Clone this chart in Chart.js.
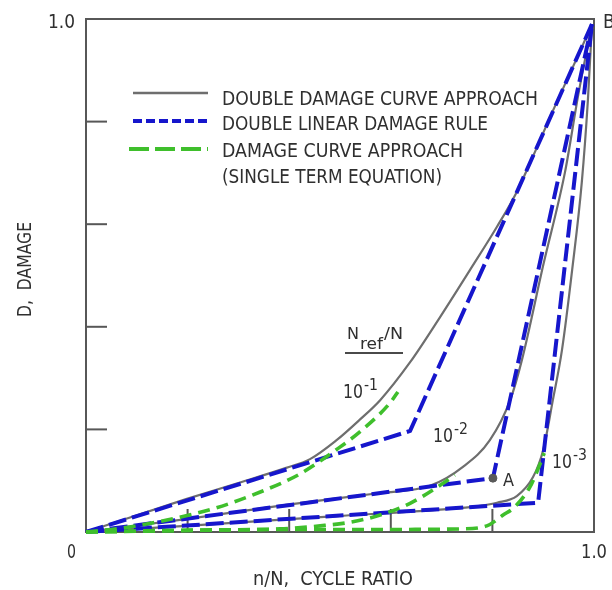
<!DOCTYPE html>
<html>
<head>
<meta charset="utf-8">
<script src="https://cdn.jsdelivr.net/npm/chart.js@4.4.1/dist/chart.umd.min.js"></script>
<style>
  html, body { margin: 0; padding: 0; background: #fff; }
  #wrap { width: 612px; height: 590px; }
</style>
</head>
<body>
<div id="wrap"><canvas id="chart" width="612" height="590"></canvas></div>
<script>
/* ─── Data ──────────────────────────────────────────────────────────────── */
const xTicks = [0.2, 0.4, 0.6, 0.8];
const yTicks = [0.2, 0.4, 0.6, 0.8];
const xTickLabels = ['0', '1.0'];
const yTickLabels = ['1.0'];
const ratioExponents = ['-1', '-2', '-3'];

// Double damage curve approach (solid grey)
const ddca1X = [0, 0.197, 0.295, 0.394, 0.441, 0.492, 0.539, 0.579, 0.638, 0.697, 0.756, 0.809, 0.848, 0.874, 0.919, 0.972, 0.996];
const ddca1Y = [0, 0.064, 0.094, 0.125, 0.142, 0.178, 0.219, 0.257, 0.331, 0.419, 0.511, 0.595, 0.663, 0.719, 0.821, 0.936, 0.990];
const ddca2X = [0, 0.197, 0.394, 0.579, 0.677, 0.742, 0.795, 0.835, 0.858, 0.900, 0.943, 0.969, 0.996];
const ddca2Y = [0, 0.025, 0.053, 0.076, 0.090, 0.127, 0.179, 0.257, 0.335, 0.520, 0.702, 0.852, 0.990];
const ddca3X = [0, 0.197, 0.492, 0.717, 0.776, 0.809, 0.848, 0.880, 0.900, 0.919, 0.937, 0.957, 0.976, 0.988, 0.996];
const ddca3Y = [0, 0.012, 0.031, 0.045, 0.051, 0.057, 0.070, 0.107, 0.160, 0.257, 0.355, 0.511, 0.682, 0.842, 0.990];

// Double linear damage rule (blue dashed), knee points in the middle
const dldr1X = [0, 0.638, 0.996];
const dldr1Y = [0, 0.197, 0.990];
const dldr2X = [0, 0.801, 0.996];
const dldr2Y = [0, 0.105, 0.990];
const dldr3X = [0, 0.890, 0.996];
const dldr3Y = [0, 0.057, 0.990];

// Damage curve approach, single term (green dashed) - drawn until it meets the grey curve
const dca1X = [0, 0.073, 0.157, 0.256, 0.343, 0.421, 0.492, 0.539, 0.598, 0.614];
const dca1Y = [0, 0.008, 0.023, 0.047, 0.078, 0.113, 0.160, 0.195, 0.251, 0.273];
const dca2X = [0, 0.224, 0.382, 0.461, 0.520, 0.579, 0.638, 0.697, 0.726];
const dca2Y = [0, 0.004, 0.006, 0.012, 0.019, 0.033, 0.056, 0.091, 0.111];
const dca3X = [0, 0.421, 0.618, 0.736, 0.789, 0.821, 0.844, 0.874, 0.894, 0.902];
const dca3Y = [0, 0.005, 0.005, 0.006, 0.012, 0.033, 0.049, 0.088, 0.133, 0.154];

const pointA = [0.801, 0.105];

/* ─── Styling ───────────────────────────────────────────────────────────── */
const GREY  = '#6e6e6e';
const BLUE  = '#1616cc';
const GREEN = '#3fbf2c';
const INK   = '#2f2f2f';
const FONT  = '"DejaVu Sans Condensed", "DejaVu Sans", sans-serif';

const pts = (xs, ys) => xs.map((x, i) => ({ x, y: ys[i] }));

const greyLine = (xs, ys) => ({
  data: pts(xs, ys), borderColor: GREY, borderWidth: 2.2,
  cubicInterpolationMode: 'monotone', pointRadius: 0, showLine: true, clip: false,
});
const blueLine = (xs, ys) => ({
  data: pts(xs, ys), borderColor: BLUE, borderWidth: 4, borderDash: [18, 6],
  pointRadius: 0, showLine: true, clip: false,
});
const greenLine = (xs, ys) => ({
  data: pts(xs, ys), borderColor: GREEN, borderWidth: 3.6, borderDash: [12, 7],
  cubicInterpolationMode: 'monotone', pointRadius: 0, showLine: true, clip: false,
});

// text squeezed/stretched to a given width; x = left edge, y = baseline
function fitText(ctx, text, x, y, width, size) {
  ctx.save();
  ctx.font = `${size}px ${FONT}`;
  const w = ctx.measureText(text).width;
  ctx.translate(x, y);
  ctx.scale(width / w, 1);
  ctx.textBaseline = 'alphabetic';
  ctx.textAlign = 'left';
  ctx.fillStyle = INK;
  ctx.fillText(text, 0, 0);
  ctx.restore();
}

function line(ctx, x1, y1, x2, y2, color, width, dash) {
  ctx.save();
  ctx.strokeStyle = color;
  ctx.lineWidth = width;
  ctx.setLineDash(dash || []);
  ctx.beginPath();
  ctx.moveTo(x1, y1);
  ctx.lineTo(x2, y2);
  ctx.stroke();
  ctx.restore();
}

/* ─── Frame, ticks, labels, legend ──────────────────────────────────────── */
const decorations = {
  id: 'decorations',
  beforeDatasetsDraw(chart) {
    const { ctx, chartArea: a, scales: { x, y } } = chart;
    ctx.save();
    ctx.strokeStyle = '#575757';
    ctx.lineWidth = 2;
    ctx.strokeRect(a.left, a.top, a.right - a.left, a.bottom - a.top);
    ctx.restore();
    yTicks.forEach(v => {
      const py = y.getPixelForValue(v);
      line(ctx, a.left, py, a.left + 21, py, '#575757', 2);
    });
    xTicks.forEach(v => {
      const px = x.getPixelForValue(v);
      line(ctx, px, a.bottom, px, a.bottom - 23, '#575757', 2);
    });
  },
  afterDraw(chart) {
    const { ctx } = chart;
    // tick labels
    fitText(ctx, xTickLabels[0], 67, 558, 9, 20);
    fitText(ctx, xTickLabels[1], 581, 558, 26, 20);
    fitText(ctx, yTickLabels[0], 48, 28, 27, 20);
    fitText(ctx, 'B', 603, 28, 12, 20);

    // axis titles
    fitText(ctx, 'n/N,  CYCLE RATIO', 253, 585, 160, 20);
    ctx.save();
    ctx.translate(31, 317);
    ctx.rotate(-Math.PI / 2);
    fitText(ctx, 'D,  DAMAGE', 0, 0, 95, 20);
    ctx.restore();

    // legend
    line(ctx, 133, 93, 208, 93, GREY, 2.5);
    line(ctx, 133, 121, 208, 121, BLUE, 4, [9, 4]);
    line(ctx, 129, 149, 208, 149, GREEN, 4, [20, 6]);
    fitText(ctx, 'DOUBLE DAMAGE CURVE APPROACH', 222, 105, 316, 20);
    fitText(ctx, 'DOUBLE LINEAR DAMAGE RULE', 222, 130, 266, 20);
    fitText(ctx, 'DAMAGE CURVE APPROACH', 222, 157, 241, 20);
    fitText(ctx, '(SINGLE TERM EQUATION)', 222, 183, 220, 20);

    // N_ref/N heading
    fitText(ctx, 'N', 347, 339, 12, 16);
    fitText(ctx, 'ref', 360, 349, 23, 15);
    fitText(ctx, '/N', 384, 339, 19, 16);
    line(ctx, 345, 353, 403, 353, '#4a4a4a', 2);

    // ratio labels
    const spots = [[343, 398], [433, 442], [552, 468]];
    spots.forEach(([lx, ly], i) => {
      fitText(ctx, '10', lx, ly, 20, 20);
      fitText(ctx, ratioExponents[i], lx + 21, ly - 8, 14, 16);
    });
    fitText(ctx, 'A', 503, 486, 11, 18);
  },
};

/* ─── Chart ─────────────────────────────────────────────────────────────── */
new Chart(document.getElementById('chart'), {
  type: 'scatter',
  data: {
    datasets: [
      { data: [{ x: pointA[0], y: pointA[1] }], pointRadius: 4, pointBackgroundColor: '#5a5a5a',
        pointBorderColor: '#5a5a5a', showLine: false, clip: false },
      greenLine(dca1X, dca1Y),
      greenLine(dca2X, dca2Y),
      greenLine(dca3X, dca3Y),
      blueLine(dldr1X, dldr1Y),
      blueLine(dldr2X, dldr2Y),
      blueLine(dldr3X, dldr3Y),
      greyLine(ddca1X, ddca1Y),
      greyLine(ddca2X, ddca2Y),
      greyLine(ddca3X, ddca3Y),
    ],
  },
  options: {
    responsive: false,
    animation: false,
    layout: { padding: { left: 86, right: 18, top: 19, bottom: 58 } },
    plugins: { legend: { display: false }, tooltip: { enabled: false } },
    scales: {
      x: { type: 'linear', min: 0, max: 1, display: false },
      y: { type: 'linear', min: 0, max: 1, display: false },
    },
  },
  plugins: [decorations],
});
</script>
</body>
</html>
